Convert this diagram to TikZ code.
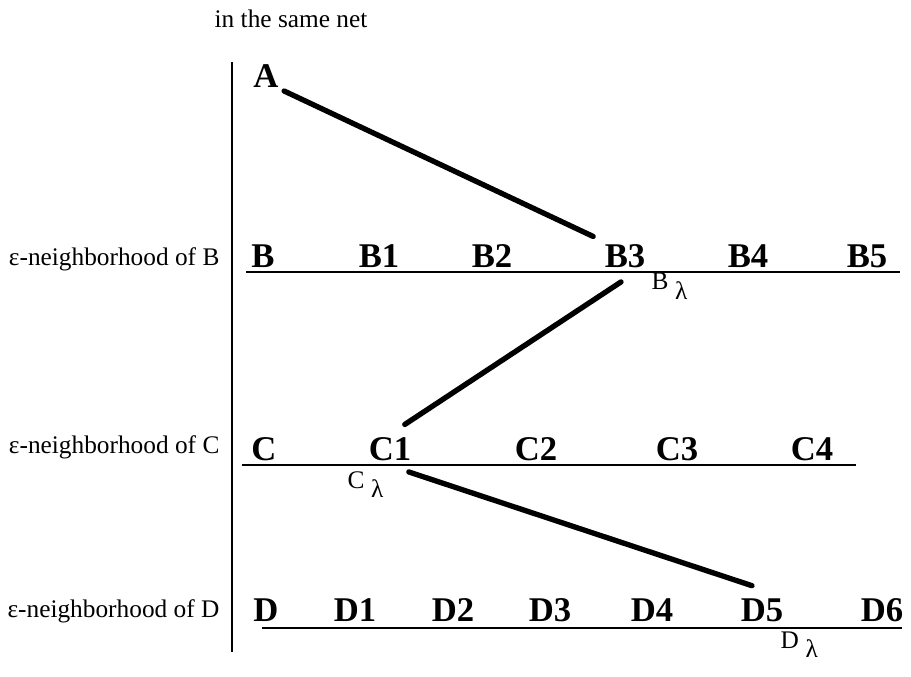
\documentclass[tikz,border=0pt]{standalone}
\usepackage{fontspec}
\setmainfont{Liberation Serif}
\usetikzlibrary{calc}

\begin{document}
\begin{tikzpicture}[
  x=0.75pt,y=0.75pt,
  note/.style={font=\fontsize{19}{21}\selectfont,inner sep=1pt},
  elem/.style={font=\fontsize{26}{28}\selectfont\bfseries,inner sep=1pt,anchor=base},
  netline/.style={line width=1.3pt},
  path/.style={line width=4pt,line cap=round},
]
\useasboundingbox (0,0) rectangle (911,676);
\node[note,anchor=base] (net) at (291,648) {in the same net};
\draw[netline] (232,614) -- (232,24);

\node[elem] (A) at (266,588) {A};

% rows of the net
\node[note,anchor=base east] (nbB) at (221,410) {ε-neighborhood of B};
\foreach \n/\x in {B/263,B1/379,B2/492,B3/625,B4/748,B5/867}
  \node[elem] (\n) at (\x,408) {\n};
\draw[netline] (246,404) -- (900,404);

\node[note,anchor=base east] (nbC) at (221,223) {ε-neighborhood of C};
\foreach \n/\x in {C/264,C1/390,C2/536,C3/677,C4/812}
  \node[elem] (\n) at (\x,216) {\n};
\draw[netline] (242,211) -- (856,211);

\node[note,anchor=base east] (nbD) at (221,59) {ε-neighborhood of D};
\foreach \n/\x in {D/266,D1/355,D2/453,D3/550,D4/652,D5/762,D6/882}
  \node[elem] (\n) at (\x,55) {\n};
\draw[netline] (262,48) -- (902,48);

\node[note,anchor=base west] (Blam) at (650,386) {B\hspace{5pt}\raisebox{-7pt}{λ}};
\node[note,anchor=base west] (Clam) at (346,188) {C\hspace{5pt}\raisebox{-7pt}{λ}};
\node[note,anchor=base west] (Dlam) at (779,28) {D\hspace{5pt}\raisebox{-7pt}{λ}};

\draw[path] ([shift={(4,-3)}]A.base east) -- ([shift={(-10,7)}]B3.north west);
\draw[path] ([shift={(-4,-12)}]B3.south) -- ([shift={(-8,11)}]C1.north east);
\draw[path] ([shift={(-4,-10)}]C1.south east) -- ([shift={(-10,11)}]D5.north);
\end{tikzpicture}
\end{document}
